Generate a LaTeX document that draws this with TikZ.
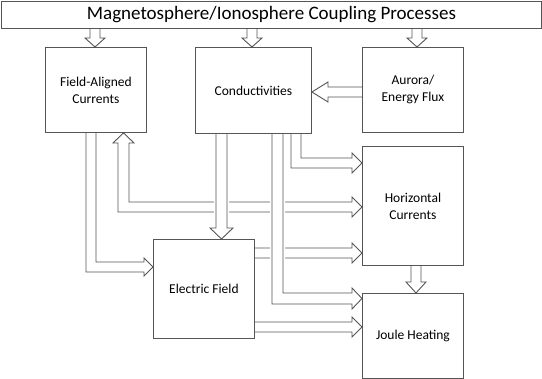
\documentclass[tikz,border=0pt]{standalone}
\usepackage{fontspec}
\setmainfont{Carlito}
\usetikzlibrary{backgrounds}
\definecolor{lc}{RGB}{85,85,85}
\tikzset{
  box/.style={draw=lc, fill=white, line width=0.9pt, anchor=north west, inner sep=0pt,
    align=center, font=\fontsize{13.5}{17}\selectfont},
  fat/.style={draw=lc, fill=white, line width=0.9pt, line join=miter},
  halo/.style={fat, preaction={draw=white, line width=4pt}}
}
\begin{document}
\begin{tikzpicture}[x=1pt, y=-1pt]
\useasboundingbox (0,0) rectangle (542,379);
% boxes
\node[box, minimum width=540pt, minimum height=27pt, font=\fontsize{19}{22}\selectfont] (title) at (1,1) {Magnetosphere/Ionosphere Coupling Processes};
\node[box, minimum width=101pt, minimum height=85pt] (fac) at (45,47) {Field-Aligned\\Currents};
\node[box, minimum width=116pt, minimum height=86pt] (cond) at (195,47) {Conductivities};
\node[box, minimum width=101pt, minimum height=85pt] (aur) at (362,47) {Aurora/\\Energy Flux};
\node[box, minimum width=101pt, minimum height=119pt] (hc) at (362,146) {Horizontal\\Currents};
\node[box, minimum width=101pt, minimum height=99pt] (ef) at (153,239) {Electric Field};
\node[box, minimum width=101pt, minimum height=85pt] (jh) at (362,293) {Joule Heating};
\begin{pgfonlayer}{background}
% title -> boxes
\foreach \cx/\tgt in {95/fac, 252/cond, 417/aur}{
  \draw[fat] (\cx-5,0 |- title.south) -- (\cx-5,38) -- (\cx-10,38) -- (\cx,0 |- \tgt.north)
    -- (\cx+10,38) -- (\cx+5,38) -- (\cx+5,0 |- title.south);
}
% aurora -> conductivities
\draw[fat] (aur.west |- 0,87) -- (328,87) -- (328,82) -- (cond.east |- 0,92) -- (328,102) -- (328,97) -- (aur.west |- 0,97);
% field-aligned currents -> electric field
\draw[fat] (86,0 |- fac.south) -- (86,272) -- (144,272) -- (144,276) -- (ef.west |- 0,267)
  -- (144,258) -- (144,262) -- (96,262) -- (96,0 |- fac.south);
% horizontal currents <-> field-aligned currents
\draw[fat] (118,143) -- (118,212) -- (352,212) -- (352,217) -- (hc.west |- 0,207) -- (352,197)
  -- (352,202) -- (129,202) -- (129,143) -- (134,143) -- (123.5,0 |- fac.south) -- (113,143) -- cycle;
% electric field -> horizontal currents
\draw[fat] (ef.east |- 0,248) -- (352,248) -- (352,243) -- (hc.west |- 0,253) -- (352,263) -- (352,258) -- (ef.east |- 0,258);
% electric field -> joule heating
\draw[fat] (ef.east |- 0,322) -- (352,322) -- (352,317) -- (jh.west |- 0,327) -- (352,337) -- (352,332) -- (ef.east |- 0,332);
% conductivities -> horizontal currents
\draw[fat] (291,0 |- cond.south) -- (291,168) -- (352,168) -- (352,173) -- (hc.west |- 0,163)
  -- (352,153) -- (352,158) -- (301,158) -- (301,0 |- cond.south);
% conductivities -> electric field
\draw[halo] (216,0 |- cond.south) -- (216,228) -- (210,228) -- (221.5,0 |- ef.north) -- (233,228) -- (227,228) -- (227,0 |- cond.south);
% conductivities -> joule heating
\draw[halo] (272,0 |- cond.south) -- (272,304) -- (352,304) -- (352,309) -- (jh.west |- 0,298.5)
  -- (352,288) -- (352,293) -- (283,293) -- (283,0 |- cond.south);
% horizontal currents -> joule heating
\draw[fat] (411,0 |- hc.south) -- (411,282) -- (406,282) -- (416,0 |- jh.north) -- (426,282) -- (421,282) -- (421,0 |- hc.south);
\end{pgfonlayer}
\end{tikzpicture}
\end{document}
